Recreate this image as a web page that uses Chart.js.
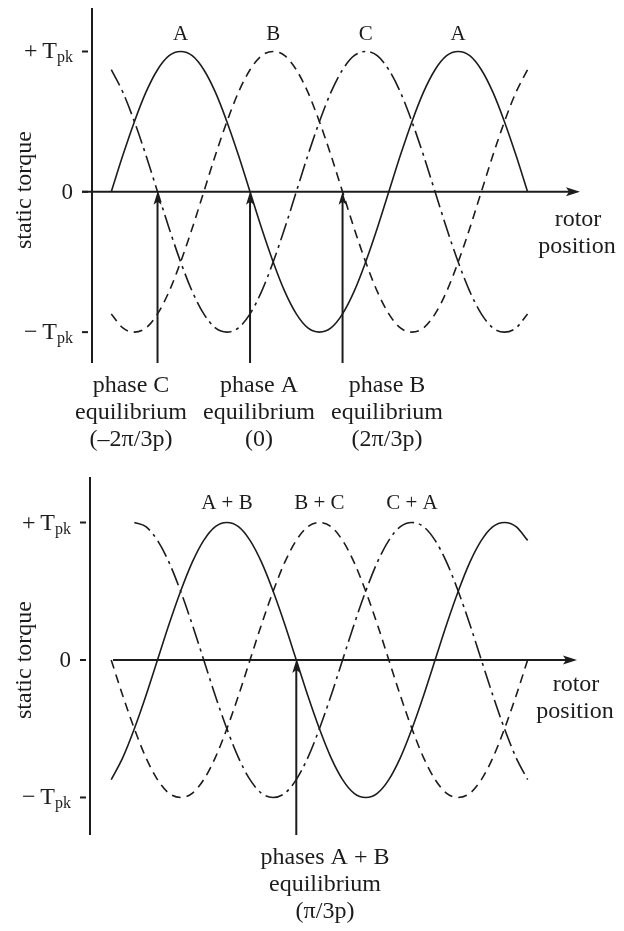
<!DOCTYPE html>
<html>
<head>
<meta charset="utf-8">
<title>Static torque curves</title>
<script src="https://cdn.jsdelivr.net/npm/chart.js@4.4.0/dist/chart.umd.min.js"></script>
<style>
  body { margin: 0; background: #fff; }
  #wrap { position: relative; width: 624px; height: 931px; }
  canvas { position: absolute; left: 0; }
  #oneOn { top: 0; }
  #twoOn { top: 470px; }
</style>
</head>
<body>
<div id="wrap">
  <canvas id="oneOn" width="624" height="470"></canvas>
  <canvas id="twoOn" width="624" height="461"></canvas>
</div>
<script>
// rotor position in electrical degrees, 0 = phase A equilibrium
const position = [-180, -165, -150, -135, -120, -105, -90, -75, -60, -45, -30, -15, 0, 15, 30, 45, 60, 75, 90,
  105, 120, 135, 150, 165, 180, 195, 210, 225, 240, 255, 270, 285, 300, 315, 330, 345, 360];

// static torque per unit of T_pk, one phase excited
const phaseA = [0, .26, .5, .71, .87, .97, 1, .97, .87, .71, .5, .26, 0, -.26, -.5, -.71, -.87, -.97, -1,
  -.97, -.87, -.71, -.5, -.26, 0, .26, .5, .71, .87, .97, 1, .97, .87, .71, .5, .26, 0];
const phaseB = [-.87, -.97, -1, -.97, -.87, -.71, -.5, -.26, 0, .26, .5, .71, .87, .97, 1, .97, .87, .71, .5,
  .26, 0, -.26, -.5, -.71, -.87, -.97, -1, -.97, -.87, -.71, -.5, -.26, 0, .26, .5, .71, .87];
const phaseC = [.87, .71, .5, .26, 0, -.26, -.5, -.71, -.87, -.97, -1, -.97, -.87, -.71, -.5, -.26, 0, .26, .5,
  .71, .87, .97, 1, .97, .87, .71, .5, .26, 0, -.26, -.5, -.71, -.87, -.97, -1, -.97, -.87];

// two phases excited together
const phasesAB = [-.87, -.71, -.5, -.26, 0, .26, .5, .71, .87, .97, 1, .97, .87, .71, .5, .26, 0, -.26, -.5,
  -.71, -.87, -.97, -1, -.97, -.87, -.71, -.5, -.26, 0, .26, .5, .71, .87, .97, 1, .97, .87];
const phasesBC = [0, -.26, -.5, -.71, -.87, -.97, -1, -.97, -.87, -.71, -.5, -.26, 0, .26, .5, .71, .87, .97, 1,
  .97, .87, .71, .5, .26, 0, -.26, -.5, -.71, -.87, -.97, -1, -.97, -.87, -.71, -.5, -.26, 0];
const phasesCA = [null, null, 1, .97, .87, .71, .5, .26, 0, -.26, -.5, -.71, -.87, -.97, -1, -.97, -.87, -.71, -.5,
  -.26, 0, .26, .5, .71, .87, .97, 1, .97, .87, .71, .5, .26, 0, -.26, -.5, -.71, -.87];

// torque levels marked on the vertical axis
const torqueTicks = [1, 0, -1];

// curve names and the rotor angle of the peak they sit over
const singleNames = ["A", "B", "C", "A"];
const singlePeaks = [-90, 30, 150, 270];
const pairNames = ["A + B", "B + C", "C + A"];
const pairPeaks = [-30, 90, 210];

// stable equilibrium positions
const singleEquilibria = [-120, 0, 120];
const pairEquilibria = [60];

const ink = "#1c1c1c";
const serif = '"Liberation Serif", "Times New Roman", serif';

function line(ctx, x1, y1, x2, y2) {
  ctx.beginPath();
  ctx.moveTo(x1, y1);
  ctx.lineTo(x2, y2);
  ctx.stroke();
}

function tpkLabel(ctx, sign, right, py) {
  ctx.textAlign = "left";
  ctx.textBaseline = "alphabetic";
  ctx.font = "16px " + serif;
  const subW = ctx.measureText("pk").width;
  ctx.font = "24px " + serif;
  const main = sign + "\u2009T";
  const mainW = ctx.measureText(main).width;
  ctx.fillText(main, right - subW - mainW, py + 7);
  ctx.font = "16px " + serif;
  ctx.fillText("pk", right - subW, py + 11);
}

const torqueDiagram = {
  id: "torqueDiagram",
  beforeDatasetsDraw(chart, args, o) {
    const { ctx, chartArea: a, scales: { x, y } } = chart;
    ctx.save();
    ctx.strokeStyle = ink;
    ctx.fillStyle = ink;
    ctx.lineWidth = 2;

    // torque axis and its tick marks
    line(ctx, a.left, a.top, a.left, a.bottom);
    torqueTicks.forEach(v => {
      const py = y.getPixelForValue(v);
      line(ctx, a.left - 10, py, a.left - 4, py);
    });

    // rotor position axis with arrowhead
    const y0 = y.getPixelForValue(0);
    line(ctx, a.left + o.axisStart, y0, a.right - 8, y0);
    ctx.beginPath();
    ctx.moveTo(a.right, y0);
    ctx.lineTo(a.right - 14, y0 - 4.5);
    ctx.lineTo(a.right - 11, y0);
    ctx.lineTo(a.right - 14, y0 + 4.5);
    ctx.closePath();
    ctx.fill();

    // tick labels
    tpkLabel(ctx, "+", a.left - 19, y.getPixelForValue(1));
    tpkLabel(ctx, "\u2212", a.left - 19, y.getPixelForValue(-1));
    ctx.font = "23px " + serif;
    ctx.textAlign = "right";
    ctx.textBaseline = "middle";
    ctx.fillText("0", a.left - 19, y0 + 1);

    // axis titles
    ctx.save();
    ctx.translate(25, o.titleY);
    ctx.rotate(-Math.PI / 2);
    ctx.textAlign = "center";
    ctx.font = "24px " + serif;
    ctx.fillText("static torque", 0, 0);
    ctx.restore();

    ctx.textAlign = "center";
    ctx.font = "24px " + serif;
    ctx.fillText("rotor", o.rotor[0], o.rotor[1]);
    ctx.fillText("position", o.rotor[0] - 1, o.rotor[1] + 27);
    ctx.restore();
  },
  afterDatasetsDraw(chart, args, o) {
    const { ctx, chartArea: a, scales: { x, y } } = chart;
    ctx.save();
    ctx.strokeStyle = ink;
    ctx.fillStyle = ink;
    ctx.lineWidth = 2;
    const y0 = y.getPixelForValue(0);

    // equilibrium arrows pointing up to the zero-torque line
    o.equilibria.forEach(th => {
      const px = x.getPixelForValue(th);
      line(ctx, px, a.bottom, px, y0 + 8);
      ctx.beginPath();
      ctx.moveTo(px, y0);
      ctx.lineTo(px - 4, y0 + 13);
      ctx.lineTo(px, y0 + 10);
      ctx.lineTo(px + 4, y0 + 13);
      ctx.closePath();
      ctx.fill();
    });

    // curve names above the peaks
    ctx.font = "21px " + serif;
    ctx.textAlign = "center";
    ctx.textBaseline = "middle";
    o.names.forEach((n, i) => {
      ctx.fillText(n, x.getPixelForValue(o.peaks[i]), o.nameY);
    });

    // notes under the arrows
    ctx.font = "24px " + serif;
    o.notes.forEach(nt => {
      nt.lines.forEach((t, k) => ctx.fillText(t, nt.cx, nt.y + k * 27));
    });
    ctx.restore();
  }
};

function curve(values, dash) {
  return {
    data: position.map((p, i) => ({ x: p, y: values[i] })).filter(d => d.y !== null),
    borderColor: ink,
    borderWidth: 1.6,
    borderDash: dash,
    pointRadius: 0,
    fill: false,
    cubicInterpolationMode: "monotone"
  };
}

const solid = [];
const dashed = [9, 6];
const chain = [18, 5, 3, 5];

function makeChart(id, datasets, pad, xRange, yRange, diagram) {
  return new Chart(document.getElementById(id), {
    type: "line",
    data: { datasets: datasets },
    options: {
      responsive: false,
      animation: false,
      events: [],
      layout: { padding: pad },
      scales: {
        x: { type: "linear", min: xRange[0], max: xRange[1], display: false },
        y: { type: "linear", min: yRange[0], max: yRange[1], display: false }
      },
      plugins: {
        legend: { display: false },
        tooltip: { enabled: false },
        torqueDiagram: diagram
      }
    },
    plugins: [torqueDiagram]
  });
}

// one phase on at a time
makeChart("oneOn",
  [curve(phaseA, solid), curve(phaseB, dashed), curve(phaseC, chain)],
  { left: 92, right: 44, top: 8, bottom: 107 },
  [-205, 428], [-1.22, 1.31],
  {
    axisStart: -10,
    titleY: 190,
    rotor: [578, 220],
    names: singleNames,
    peaks: singlePeaks,
    nameY: 34,
    equilibria: singleEquilibria,
    notes: [
      { cx: 131, y: 386, lines: ["phase C", "equilibrium", "(\u20132\u03c0/3p)"] },
      { cx: 259, y: 386, lines: ["phase A", "equilibrium", "(0)"] },
      { cx: 387, y: 386, lines: ["phase B", "equilibrium", "(2\u03c0/3p)"] }
    ]
  });

// two phases on together
makeChart("twoOn",
  [curve(phasesAB, solid), curve(phasesBC, dashed), curve(phasesCA, chain)],
  { left: 90, right: 47, top: 7, bottom: 96 },
  [-207.5, 424], [-1.273, 1.331],
  {
    axisStart: 23,
    titleY: 190,
    rotor: [576, 215],
    names: pairNames,
    peaks: pairPeaks,
    nameY: 33,
    equilibria: pairEquilibria,
    notes: [
      { cx: 325, y: 388, lines: ["phases A + B", "equilibrium", "(\u03c0/3p)"] }
    ]
  });
</script>
</body>
</html>
